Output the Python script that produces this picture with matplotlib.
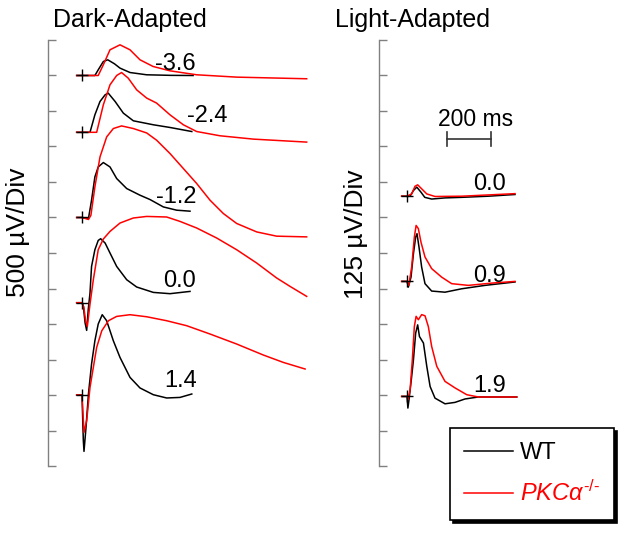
import matplotlib
matplotlib.use('Agg')
import matplotlib.pyplot as plt
from matplotlib.lines import Line2D

plt.rcParams['font.family'] = ['Liberation Sans', 'DejaVu Sans']
plt.rcParams['mathtext.fontset'] = 'custom'
plt.rcParams['mathtext.it'] = 'Liberation Sans:italic'
plt.rcParams['mathtext.rm'] = 'Liberation Sans'

# ---- Dark-adapted traces (time in ms after flash, amplitude in uV) ----
da_m36_wt_t = [-24, 0, 58, 73, 96, 116, 146, 171, 216, 291, 400, 500]
da_m36_wt_v = [0, 0, 0, 80, 197, 221, 165, 104, 42, 10, 2, 0]
da_m36_ko_t = [-24, 0, 73, 96, 126, 171, 216, 261, 320, 396, 516, 696, 1011]
da_m36_ko_v = [0, 0, 0, 151, 362, 432, 362, 221, 127, 66, 10, -23, -46]

da_m24_wt_t = [-24, 0, 36, 58, 81, 104, 118, 149, 186, 231, 321, 396, 494]
da_m24_wt_v = [0, 0, 0, 246, 434, 528, 552, 434, 270, 162, 106, 68, 11]
da_m24_ko_t = [-24, 0, 66, 96, 126, 156, 178, 208, 246, 291, 336, 396, 456, 516, 621, 771, 1011]
da_m24_ko_v = [0, 0, 0, 387, 669, 800, 842, 763, 598, 482, 411, 246, 106, 11, -49, -96, -138]

da_m12_wt_t = [-24, 0, 29, 43, 58, 73, 96, 126, 156, 201, 261, 306, 366, 426, 486]
da_m12_wt_v = [0, 0, -15, 244, 572, 712, 774, 712, 549, 408, 314, 253, 149, 103, 89]
da_m12_ko_t = [-24, 0, 29, 40, 58, 81, 111, 141, 178, 231, 291, 336, 396, 456, 516, 576, 636,
               696, 786, 876, 1011]
da_m12_ko_v = [0, 0, -28, 30, 431, 853, 1135, 1253, 1290, 1253, 1191, 1088, 901, 690, 479, 244, 56,
               -84, -203, -263, -273]

da_p00_wt_t = [-24, 0, 6, 14, 21, 28, 36, 43, 58, 73, 84, 104, 126, 156, 201, 246, 321, 396, 486]
da_p00_wt_v = [0, 0, -50, -286, -390, -100, 137, 511, 746, 877, 901, 840, 700, 511, 324, 221, 145, 127, 159]
da_p00_ko_t = [-24, 0, 8, 16, 24, 36, 51, 73, 96, 126, 171, 231, 291, 381, 441, 516, 606, 696, 786,
               876, 936, 1011]
da_p00_ko_v = [0, 0, -60, -250, -334, -20, 324, 746, 897, 1004, 1122, 1193, 1215, 1207, 1145, 1052, 911,
               746, 559, 348, 230, 89]

da_p14_wt_t = [-24, 0, 6, 9, 18, 29, 43, 58, 73, 91, 111, 141, 171, 216, 261, 321, 381, 441, 494]
da_p14_wt_v = [0, 0, -643, -794, -456, 14, 436, 764, 1000, 1131, 1046, 764, 529, 248, 99, 4, -42, -34, 14]
da_p14_ko_t = [-24, 0, 3, 9, 21, 36, 51, 66, 89, 119, 156, 216, 291, 381, 471, 576, 696, 816, 906, 1004]
da_p14_ko_v = [0, 0, -175, -527, -362, 107, 389, 670, 905, 1046, 1107, 1131, 1102, 1046, 976, 859, 718,
               563, 459, 366]

# ---- Light-adapted traces ----
la_p00_wt_t = [-24, 0, 14, 29, 44, 63, 80, 111, 171, 246, 366, 486]
la_p00_wt_v = [0, 0, 0, 20, 32, 14, -4, -10, -6, -4, 0, 6]
la_p00_ko_t = [-24, 0, 21, 36, 48, 66, 89, 126, 246, 486]
la_p00_ko_v = [0, 0, 8, 35, 40, 26, 8, -1, 0, 9]

la_p09_wt_t = [-24, 0, 6, 18, 29, 39, 45, 54, 66, 81, 111, 171, 246, 351, 486]
la_p09_wt_v = [0, 0, -20, 15, 98, 156, 168, 121, 50, -8, -34, -38, -26, -14, -2]
la_p09_ko_t = [-24, 0, 8, 21, 33, 41, 51, 63, 81, 111, 156, 201, 276, 381, 486]
la_p09_ko_v = [0, 0, -14, 50, 156, 197, 186, 138, 86, 45, 15, -8, -14, -6, 0]

la_p19_wt_t = [-24, 0, 4, 9, 21, 29, 39, 48, 56, 74, 89, 104, 126, 171, 216, 261, 321, 494]
la_p19_wt_v = [0, 0, -41, -12, 70, 129, 223, 252, 211, 188, 106, 35, -6, -26, -21, -9, -2, -2]
la_p19_ko_t = [-24, 0, 4, 14, 24, 33, 41, 51, 66, 81, 96, 111, 134, 171, 216, 269, 321, 494]
la_p19_ko_v = [0, 0, -12, 23, 129, 246, 282, 270, 288, 284, 246, 176, 106, 53, 30, 6, -2, -2]

dark_labels = ['-3.6', '-2.4', '-1.2', '0.0', '1.4']
dark_base = [5500, 4700, 3500, 2300, 1000]          # uV offset of each trace
dark_label_pos = [(422, 5577), (565, 4841), (422, 3700), (441, 2525), (445, 1117)]
light_labels = ['0.0', '0.9', '1.9']
light_base = [950, 650, 245]
light_label_pos = [(371, 972), (371, 649), (371, 262)]

dark_wt = [(da_m36_wt_t, da_m36_wt_v), (da_m24_wt_t, da_m24_wt_v), (da_m12_wt_t, da_m12_wt_v),
           (da_p00_wt_t, da_p00_wt_v), (da_p14_wt_t, da_p14_wt_v)]
dark_ko = [(da_m36_ko_t, da_m36_ko_v), (da_m24_ko_t, da_m24_ko_v), (da_m12_ko_t, da_m12_ko_v),
           (da_p00_ko_t, da_p00_ko_v), (da_p14_ko_t, da_p14_ko_v)]
light_wt = [(la_p00_wt_t, la_p00_wt_v), (la_p09_wt_t, la_p09_wt_v), (la_p19_wt_t, la_p19_wt_v)]
light_ko = [(la_p00_ko_t, la_p00_ko_v), (la_p09_ko_t, la_p09_ko_v), (la_p19_ko_t, la_p19_ko_v)]

DARK_DIV = 500    # uV per division
LIGHT_DIV = 125
SCALE_MS = 200

W, H = 632, 537
fig = plt.figure(figsize=(W / 100, H / 100), dpi=100)
ax_d = fig.add_axes([48 / W, 71 / H, 264 / W, 426 / H])
ax_l = fig.add_axes([379 / W, 71 / H, 253 / W, 426 / H])


def style(ax, step, x0, width_px):
    ax.set_ylim(0, 12 * step)
    ax.set_xlim(x0, x0 + width_px * 4.5)
    for s in ['top', 'right', 'bottom']:
        ax.spines[s].set_visible(False)
    ax.spines['left'].set_color('#808080')
    ax.spines['left'].set_linewidth(1.0)
    ax.set_yticks([i * step for i in range(13)])
    ax.tick_params(axis='y', direction='in', length=6, width=1.0, color='#808080', labelleft=False)
    ax.set_xticks([])
    ax.patch.set_visible(False)


style(ax_d, DARK_DIV, -153, 264)
style(ax_l, LIGHT_DIV, -126, 253)


def draw(ax, wt, ko, bases, labels, label_pos):
    for (tw, vw), (tk, vk), b, lab, (lx, ly) in zip(wt, ko, bases, labels, label_pos):
        ax.plot(tw, [b + v for v in vw], color='black', lw=1.1, clip_on=False)
        ax.plot(tk, [b + v for v in vk], color='red', lw=1.1, clip_on=False)
        ax.plot([0], [b], marker='+', color='black', ms=9, mew=1.0)
        ax.text(lx, ly, lab, ha='center', va='baseline', fontsize=17)


draw(ax_d, dark_wt, dark_ko, dark_base, dark_labels, dark_label_pos)
draw(ax_l, light_wt, light_ko, light_base, light_labels, light_label_pos)

# time scale bar
bar_t0, bar_y = 179, 1150
ax_l.plot([bar_t0, bar_t0 + SCALE_MS], [bar_y, bar_y], color='#333333', lw=1.2)
for tt in [bar_t0, bar_t0 + SCALE_MS]:
    ax_l.plot([tt, tt], [bar_y - 25, bar_y + 25], color='#333333', lw=1.2)
ax_l.text(bar_t0 + SCALE_MS / 2 + 28, 1197, '%d ms' % SCALE_MS, ha='center', va='baseline', fontsize=16.5)

fig.text(53 / W, 1 - 27 / H, 'Dark-Adapted', ha='left', va='baseline', fontsize=18)
fig.text(335 / W, 1 - 27 / H, 'Light-Adapted', ha='left', va='baseline', fontsize=18)
fig.text(18 / W, 1 - 232 / H, '%d µV/Div' % DARK_DIV, rotation=90, ha='center', va='center', fontsize=19)
fig.text(356 / W, 1 - 234 / H, '%d µV/Div' % LIGHT_DIV, rotation=90, ha='center', va='center', fontsize=19)

handles = [Line2D([], [], color='black', lw=1.1), Line2D([], [], color='red', lw=1.1)]
leg = fig.legend(handles, ['WT', r'$PKC\alpha^{\text{-/-}}$'], loc='upper left',
                 bbox_to_anchor=(450 / W, 1 - 428 / H), bbox_transform=fig.transFigure,
                 fancybox=False, shadow={'color': 'black', 'alpha': 1}, edgecolor='black',
                 framealpha=1, fontsize=17, handlelength=2.05, handletextpad=0.3,
                 borderpad=0.6, labelspacing=0.7, borderaxespad=0)
leg.get_frame().set_linewidth(1.2)
leg.get_texts()[1].set_color('red')

fig.savefig('out.png', dpi=100)
